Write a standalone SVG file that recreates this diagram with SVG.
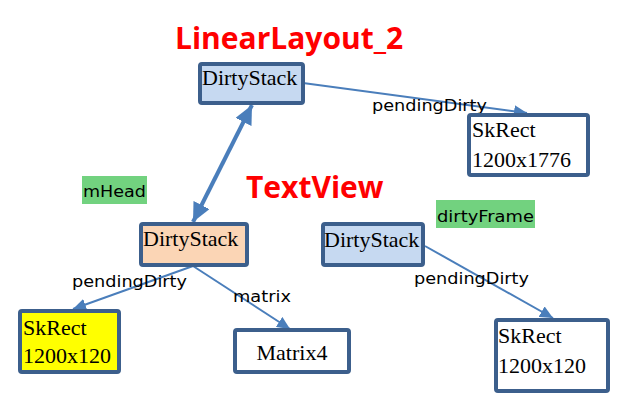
<svg xmlns="http://www.w3.org/2000/svg" width="626" height="402" viewBox="0 0 626 402">
<style>
.box{stroke:#3c5f8c;stroke-width:4;}
.serif{font-family:"Liberation Serif","Times New Roman",serif;font-size:22px;fill:#000;}
.lbl{font-family:"DejaVu Sans",Verdana,sans-serif;font-size:16.5px;fill:#000;}
.title{font-family:"Open Sans","DejaVu Sans",sans-serif;font-weight:bold;font-size:30px;fill:#ff0000;}
.conn{stroke:#4a7ebb;stroke-width:2;fill:none;}
.thick{stroke:#4a7ebb;stroke-width:4;fill:none;}
.tag{fill:#72d27f;}
</style>
<defs>
<marker id="arr" markerUnits="userSpaceOnUse" markerWidth="14" markerHeight="12" refX="13" refY="6" orient="auto">
<path d="M0,0 L13,6 L0,12 z" fill="#4a7ebb"/>
</marker>
<marker id="big" markerUnits="userSpaceOnUse" markerWidth="20" markerHeight="18" refX="19" refY="9" orient="auto-start-reverse">
<path d="M0,0 L19,9 L0,18 z" fill="#4a7ebb"/>
</marker>
</defs>

<text class="title" x="175" y="49">LinearLayout_2</text>
<text class="title" x="246" y="198">TextView</text>

<g id="connectors">
<line class="conn" x1="303" y1="83" x2="527" y2="113" marker-end="url(#arr)"/>
<line class="thick" x1="252" y1="105" x2="193" y2="222" marker-start="url(#big)" marker-end="url(#big)"/>
<line class="conn" x1="193" y1="266" x2="73" y2="309" marker-end="url(#arr)"/>
<line class="conn" x1="193" y1="266" x2="290" y2="329" marker-end="url(#arr)"/>
<line class="conn" x1="425" y1="246" x2="553" y2="318" marker-end="url(#arr)"/>
<text class="lbl" x="372" y="111" textLength="115" lengthAdjust="spacingAndGlyphs">pendingDirty</text>
<text class="lbl" x="72" y="287" textLength="115" lengthAdjust="spacingAndGlyphs">pendingDirty</text>
<text class="lbl" x="233" y="302" textLength="58" lengthAdjust="spacingAndGlyphs">matrix</text>
<text class="lbl" x="414" y="284" textLength="115" lengthAdjust="spacingAndGlyphs">pendingDirty</text>
</g>

<g id="mHead">
<rect class="tag" x="82" y="176" width="65" height="28"/>
<text class="lbl" x="83" y="197" textLength="63" lengthAdjust="spacingAndGlyphs">mHead</text>
</g>
<g id="dirtyFrame">
<rect class="tag" x="436" y="200" width="99" height="28"/>
<text class="lbl" x="437" y="222" textLength="97" lengthAdjust="spacingAndGlyphs">dirtyFrame</text>
</g>

<g id="dirtystack-top">
<rect class="box" x="200" y="64" width="103" height="39" rx="2" fill="#c6d9f1"/>
<text class="serif" x="202" y="85">DirtyStack</text>
</g>
<g id="skrect-1776">
<rect class="box" x="469" y="115" width="119" height="60" rx="2" fill="#ffffff"/>
<text class="serif" x="472" y="137">SkRect</text>
<text class="serif" x="472" y="167">1200x1776</text>
</g>
<g id="dirtystack-textview">
<rect class="box" x="141" y="224" width="106" height="41" rx="2" fill="#fbd5b5"/>
<text class="serif" x="143" y="246">DirtyStack</text>
</g>
<g id="dirtystack-frame">
<rect class="box" x="323" y="224" width="100" height="41" rx="2" fill="#c6d9f1"/>
<text class="serif" x="324" y="247">DirtyStack</text>
</g>
<g id="skrect-yellow">
<rect class="box" x="20" y="311" width="99" height="61" rx="2" fill="#ffff00"/>
<text class="serif" x="23" y="335">SkRect</text>
<text class="serif" x="23" y="363">1200x120</text>
</g>
<g id="matrix4">
<rect class="box" x="235" y="330" width="114" height="42" rx="2" fill="#ffffff"/>
<text class="serif" x="292" y="360" text-anchor="middle">Matrix4</text>
</g>
<g id="skrect-right">
<rect class="box" x="496" y="320" width="112" height="71" rx="2" fill="#ffffff"/>
<text class="serif" x="498" y="343">SkRect</text>
<text class="serif" x="498" y="373">1200x120</text>
</g>
</svg>
